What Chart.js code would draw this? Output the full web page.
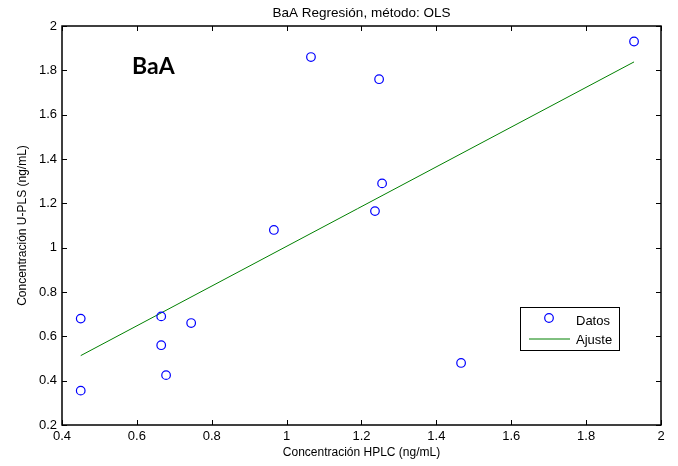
<!DOCTYPE html>
<html>
<head>
<meta charset="utf-8">
<script src="https://cdn.jsdelivr.net/npm/chart.js@4.4.1/dist/chart.umd.min.js"></script>
<style>
  html, body { margin: 0; padding: 0; background: #fff; }
  #wrap { width: 678px; height: 466px; }
</style>
</head>
<body>
<div id="wrap"><canvas id="c" width="678" height="466"></canvas></div>
<script>
// datos
const hplc = [0.45, 0.45, 0.665, 0.665, 0.678, 0.745, 0.966, 1.065, 1.247, 1.255, 1.236, 1.466, 1.928];
const upls = [0.68, 0.355, 0.69, 0.56, 0.425, 0.66, 1.08, 1.86, 1.76, 1.29, 1.165, 0.48, 1.93];
const fitX = [0.45, 1.928];
const fitY = [0.513, 1.838];
const xTicks = [0.4, 0.6, 0.8, 1, 1.2, 1.4, 1.6, 1.8, 2];
const xTickLabels = ['0.4', '0.6', '0.8', '1', '1.2', '1.4', '1.6', '1.8', '2'];
const yTicks = [0.2, 0.4, 0.6, 0.8, 1, 1.2, 1.4, 1.6, 1.8, 2];
const yTickLabels = ['0.2', '0.4', '0.6', '0.8', '1', '1.2', '1.4', '1.6', '1.8', '2'];
const seriesNames = ['Datos', 'Ajuste'];

const font = "'Liberation Sans', Arial, sans-serif";

const matlabAxes = {
  id: 'matlabAxes',
  afterDraw(chart) {
    const ctx = chart.ctx;
    const a = chart.chartArea;
    const xs = chart.scales.x, ys = chart.scales.y;
    ctx.save();
    ctx.strokeStyle = '#000';
    ctx.lineWidth = 1;
    // ticks hacia dentro, en los 4 lados
    ctx.beginPath();
    xTicks.forEach(v => {
      const px = Math.round(xs.getPixelForValue(v)) + 0.5;
      ctx.moveTo(px, a.bottom); ctx.lineTo(px, a.bottom - 5);
      ctx.moveTo(px, a.top); ctx.lineTo(px, a.top + 5);
    });
    yTicks.forEach(v => {
      const py = Math.round(ys.getPixelForValue(v)) + 0.5;
      ctx.moveTo(a.left, py); ctx.lineTo(a.left + 5, py);
      ctx.moveTo(a.right, py); ctx.lineTo(a.right - 5, py);
    });
    ctx.stroke();
    ctx.lineWidth = 1.5;
    ctx.strokeRect(a.left, a.top, a.right - a.left, a.bottom - a.top);

    // titulo
    ctx.fillStyle = '#000';
    ctx.font = '13.5px ' + font;
    ctx.textAlign = 'center';
    ctx.textBaseline = 'alphabetic';
    ctx.fillText('BaA Regresión, método: OLS', (a.left + a.right) / 2, 17);

    // etiqueta BaA
    ctx.font = "bold 23px Lato, 'Open Sans', sans-serif";
    ctx.textAlign = 'left';
    ctx.fillText('BaA', 132, 74);

    // leyenda
    const lx = 520, ly = 307, lw = 99, lh = 43;
    ctx.fillStyle = '#fff';
    ctx.fillRect(lx, ly, lw, lh);
    ctx.lineWidth = 1;
    ctx.strokeStyle = '#000';
    ctx.strokeRect(lx + 0.5, ly + 0.5, lw, lh);
    const ds = chart.data.datasets;
    ctx.strokeStyle = ds[0].borderColor;
    ctx.lineWidth = 1.2;
    ctx.beginPath();
    ctx.arc(549, 318, 4.3, 0, Math.PI * 2);
    ctx.stroke();
    ctx.strokeStyle = ds[1].borderColor;
    ctx.lineWidth = 1;
    ctx.beginPath();
    ctx.moveTo(529, 339); ctx.lineTo(570, 339);
    ctx.stroke();
    ctx.fillStyle = '#000';
    ctx.font = '13px ' + font;
    ctx.textBaseline = 'middle';
    ctx.fillText(ds[0].label, 576, 321);
    ctx.fillText(ds[1].label, 576, 340);
    ctx.restore();
  }
};

new Chart(document.getElementById('c'), {
  type: 'scatter',
  data: {
    datasets: [
      {
        label: seriesNames[0],
        data: hplc.map((x, i) => ({ x: x, y: upls[i] })),
        borderColor: '#0000ff',
        backgroundColor: 'rgba(0,0,0,0)',
        pointRadius: 4.3,
        pointBorderWidth: 1.2,
        showLine: false
      },
      {
        label: seriesNames[1],
        data: fitX.map((x, i) => ({ x: x, y: fitY[i] })),
        borderColor: '#008000',
        borderWidth: 1,
        pointRadius: 0,
        showLine: true
      }
    ]
  },
  options: {
    responsive: false,
    animation: false,
    layout: { padding: { top: 26, right: 17, left: 0, bottom: 0 } },
    plugins: { legend: { display: false }, tooltip: { enabled: false } },
    scales: {
      x: {
        type: 'linear', min: 0.4, max: 2,
        afterBuildTicks: s => { s.ticks = xTicks.map(v => ({ value: v })); },
        afterFit: s => { s.height = 41; },
        grid: { display: false, drawTicks: false, tickLength: 0 },
        border: { display: false },
        ticks: {
          color: '#000', font: { family: font, size: 13 }, padding: 4, maxRotation: 0,
          callback: (v, i) => xTickLabels[i]
        },
        title: {
          display: true, text: 'Concentración HPLC (ng/mL)', color: '#000',
          font: { family: font, size: 12 }, padding: { top: 0, bottom: 6 }
        }
      },
      y: {
        type: 'linear', min: 0.2, max: 2,
        afterBuildTicks: s => { s.ticks = yTicks.map(v => ({ value: v })); },
        afterFit: s => { s.width = 62; },
        grid: { display: false, drawTicks: false, tickLength: 0 },
        border: { display: false },
        ticks: {
          color: '#000', font: { family: font, size: 13 }, padding: 5,
          callback: (v, i) => yTickLabels[i]
        },
        title: {
          display: true, text: 'Concentración U-PLS (ng/mL)', color: '#000',
          font: { family: font, size: 12 }, padding: { top: 15, bottom: 0 }
        }
      }
    }
  },
  plugins: [matlabAxes]
});
</script>
</body>
</html>
